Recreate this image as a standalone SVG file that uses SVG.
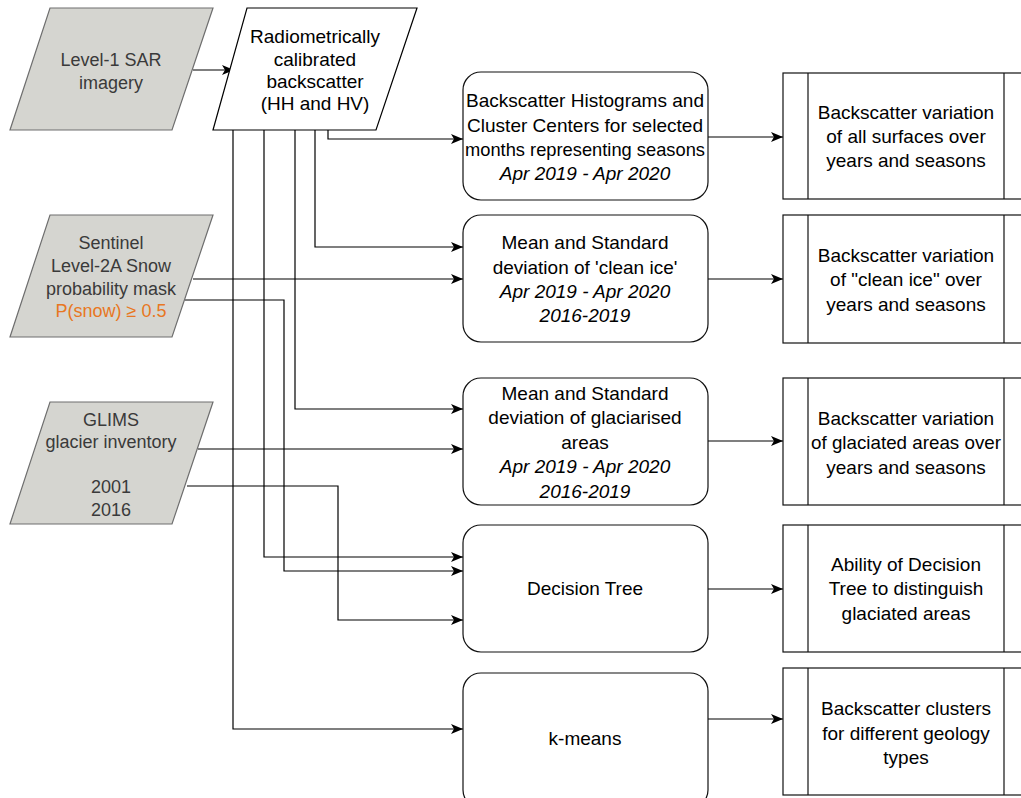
<svg xmlns="http://www.w3.org/2000/svg" width="1021" height="798" viewBox="0 0 1021 798">
<defs>
<marker id="ah" viewBox="0 0 12 10" refX="12" refY="5" markerWidth="12" markerHeight="10" markerUnits="userSpaceOnUse" orient="auto">
<path d="M0,0 L12,5 L0,10 L3,5 z" fill="#000"/>
</marker>
<style>
text{font-family:"Liberation Sans",Arial,sans-serif;font-size:19px;text-anchor:middle;fill:#000}
.in text{fill:#3a3a3a;font-size:18px}
.in polygon{fill:#d5d5d0;stroke:#6e6e6e;stroke-width:1.2}
.para{fill:#fff;stroke:#000;stroke-width:1.2}
.rb{fill:#fff;stroke:#111;stroke-width:1.2}
.pr{fill:#fff;stroke:#111;stroke-width:1.2}
.it{font-style:italic}
.or{fill:#e87722 !important}
#conn path{fill:none;stroke:#000;stroke-width:1.2;marker-end:url(#ah)}
</style>
</defs>
<rect width="1021" height="798" fill="#fff"/>

<g id="conn">
<path d="M193,70 H234"/>
<path d="M328,130 V139 H463"/>
<path d="M315,130 V247 H463"/>
<path d="M295,130 V409 H463"/>
<path d="M264,130 V557 H463"/>
<path d="M233,130 V729 H463"/>
<path d="M193,279 H463"/>
<path d="M185,300 H284 V571 H463"/>
<path d="M198,449 H463"/>
<path d="M187,486 H338 V620 H463"/>
<path d="M708,137 H783"/>
<path d="M708,279 H783"/>
<path d="M708,441 H783"/>
<path d="M708,589 H783"/>
<path d="M708,719 H783"/>
</g>

<g id="sar" class="in">
<polygon points="50,8 213,8 172,130 10,130"/>
<text x="111" y="66">Level-1 SAR</text>
<text x="111" y="89">imagery</text>
</g>

<g id="radiometric">
<polygon class="para" points="247,8 417,8 376,130 213,130"/>
<text x="315" y="43">Radiometrically</text>
<text x="315" y="66">calibrated</text>
<text x="315" y="88">backscatter</text>
<text x="315" y="110">(HH and HV)</text>
</g>

<g id="sentinel" class="in">
<polygon points="50,215 213,215 172,337 10,337"/>
<text x="111" y="249">Sentinel</text>
<text x="111" y="272">Level-2A Snow</text>
<text x="111" y="295">probability mask</text>
<text x="111" y="317" class="or">P(snow) ≥ 0.5</text>
</g>

<g id="glims" class="in">
<polygon points="50,402 213,402 172,524 10,524"/>
<text x="111" y="426">GLIMS</text>
<text x="111" y="448">glacier inventory</text>
<text x="111" y="493">2001</text>
<text x="111" y="516">2016</text>
</g>

<g id="hist">
<rect class="rb" x="463" y="72" width="245" height="128" rx="18"/>
<text x="585" y="107" textLength="238" lengthAdjust="spacingAndGlyphs">Backscatter Histograms and</text>
<text x="585" y="132" textLength="236" lengthAdjust="spacingAndGlyphs">Cluster Centers for selected</text>
<text x="585" y="156" textLength="240" lengthAdjust="spacingAndGlyphs">months representing seasons</text>
<text x="585" y="180" class="it">Apr 2019 - Apr 2020</text>
</g>

<g id="cleanice">
<rect class="rb" x="463" y="215" width="245" height="127" rx="18"/>
<text x="585" y="249">Mean and Standard</text>
<text x="585" y="274">deviation of 'clean ice'</text>
<text x="585" y="298" class="it">Apr 2019 - Apr 2020</text>
<text x="585" y="322" class="it">2016-2019</text>
</g>

<g id="glaciarised">
<rect class="rb" x="463" y="378" width="245" height="127" rx="18"/>
<text x="585" y="400">Mean and Standard</text>
<text x="585" y="424">deviation of glaciarised</text>
<text x="585" y="449">areas</text>
<text x="585" y="473" class="it">Apr 2019 - Apr 2020</text>
<text x="585" y="498" class="it">2016-2019</text>
</g>

<g id="dtree">
<rect class="rb" x="463" y="525" width="245" height="127" rx="18"/>
<text x="585" y="595">Decision Tree</text>
</g>

<g id="kmeans">
<rect class="rb" x="463" y="673" width="245" height="135" rx="18"/>
<text x="585" y="745">k-means</text>
</g>

<g id="out1">
<rect class="pr" x="783" y="73" width="250" height="126"/>
<line class="pr" x1="808" y1="73" x2="808" y2="199"/>
<line class="pr" x1="1004" y1="73" x2="1004" y2="199"/>
<text x="906" y="119">Backscatter variation</text>
<text x="906" y="143">of all surfaces over</text>
<text x="906" y="167">years and seasons</text>
</g>

<g id="out2">
<rect class="pr" x="783" y="215" width="250" height="128"/>
<line class="pr" x1="808" y1="215" x2="808" y2="343"/>
<line class="pr" x1="1004" y1="215" x2="1004" y2="343"/>
<text x="906" y="262">Backscatter variation</text>
<text x="906" y="286">of "clean ice" over</text>
<text x="906" y="311">years and seasons</text>
</g>

<g id="out3">
<rect class="pr" x="783" y="378" width="250" height="127"/>
<line class="pr" x1="808" y1="378" x2="808" y2="505"/>
<line class="pr" x1="1004" y1="378" x2="1004" y2="505"/>
<text x="906" y="425">Backscatter variation</text>
<text x="906" y="449" textLength="190" lengthAdjust="spacingAndGlyphs">of glaciated areas over</text>
<text x="906" y="474">years and seasons</text>
</g>

<g id="out4">
<rect class="pr" x="783" y="525" width="250" height="127"/>
<line class="pr" x1="808" y1="525" x2="808" y2="652"/>
<line class="pr" x1="1004" y1="525" x2="1004" y2="652"/>
<text x="906" y="571">Ability of Decision</text>
<text x="906" y="595">Tree to distinguish</text>
<text x="906" y="620">glaciated areas</text>
</g>

<g id="out5">
<rect class="pr" x="783" y="668" width="250" height="127"/>
<line class="pr" x1="808" y1="668" x2="808" y2="795"/>
<line class="pr" x1="1004" y1="668" x2="1004" y2="795"/>
<text x="906" y="715">Backscatter clusters</text>
<text x="906" y="740">for different geology</text>
<text x="906" y="764">types</text>
</g>
</svg>
